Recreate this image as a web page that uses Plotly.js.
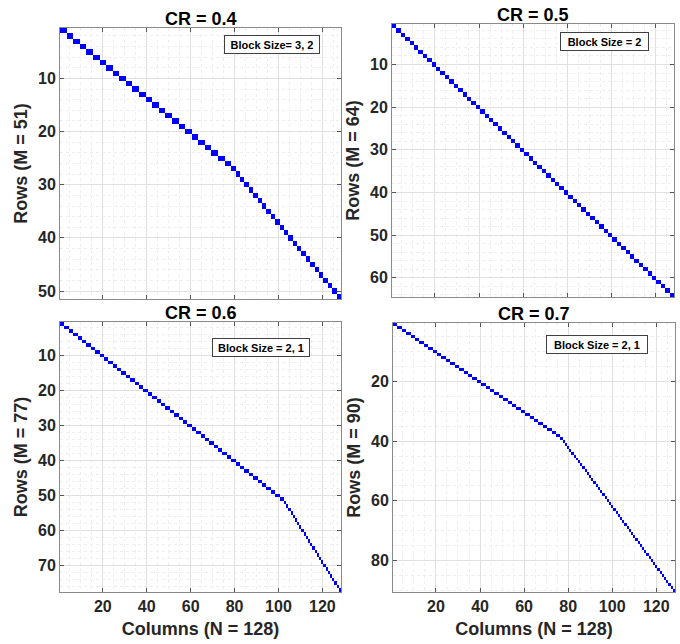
<!DOCTYPE html>
<html>
<head>
<meta charset="utf-8">
<script src="https://cdn.plot.ly/plotly-3.0.1.min.js"></script>
<style>html,body{margin:0;padding:0;background:#fff;}#chart{width:680px;height:644px;}</style>
</head>
<body>
<div id="chart"></div>
<script>
// ---- data ----
const N_COLUMNS = 128;
const crValues = [0.4, 0.5, 0.6, 0.7];
const rowCounts = [51, 64, 77, 90];
const blockSizes = [[3, 2], [2], [2, 1], [2, 1]];
const blockRowCounts = [[26, 25], [64], [51, 26], [38, 52]];
const blockLabels = ["Block Size= 3, 2", "Block Size = 2", "Block Size = 2, 1", "Block Size = 2, 1"];
const yTickValues = [
  [10, 20, 30, 40, 50],
  [10, 20, 30, 40, 50, 60],
  [10, 20, 30, 40, 50, 60, 70],
  [20, 40, 60, 80]
];
const yMinorSteps = [2, 2, 2, 5];
const xTickValues = [20, 40, 60, 80, 100, 120];
const columnTitle = "Columns (N = 128)";

// ---- layout geometry (pixels) ----
const W = 680, H = 644;
const boxes = [
  {x0: 60, x1: 341, y0: 28, y1: 299},
  {x0: 392, x1: 674, y0: 24, y1: 297},
  {x0: 60, x1: 341, y0: 322, y1: 592},
  {x0: 393, x1: 675, y0: 323, y1: 592}
];
const labelBoxes = [
  {cx: 271.5, cy: 45, w: 90},
  {cx: 604.7, cy: 42, w: 83},
  {cx: 260.5, cy: 347.5, w: 92},
  {cx: 596.5, cy: 344, w: 96}
];

const FONT = "'Liberation Sans', Arial, Helvetica, sans-serif";
const textColor = "#262626";

function buildMatrix(M, sizes, counts) {
  const z = [];
  for (let r = 0; r < M; r++) z.push(new Array(N_COLUMNS).fill(null));
  let row = 0, col = 0;
  sizes.forEach((s, i) => {
    for (let k = 0; k < counts[i]; k++) {
      for (let j = 0; j < s; j++) z[row][col + j] = 1;
      row++; col += s;
    }
  });
  return z;
}

const xs = Array.from({length: N_COLUMNS}, (_, i) => i + 1);
const traces = [];
const layout = {
  width: W, height: H,
  margin: {l: 0, r: 0, t: 0, b: 0},
  paper_bgcolor: "#ffffff",
  plot_bgcolor: "#ffffff",
  showlegend: false,
  font: {family: FONT, color: textColor},
  annotations: []
};

for (let p = 0; p < 4; p++) {
  const M = rowCounts[p];
  const ys = Array.from({length: M}, (_, i) => i + 1);
  const sfx = p === 0 ? "" : String(p + 1);
  traces.push({
    type: "heatmap",
    x: xs, y: ys,
    z: buildMatrix(M, blockSizes[p], blockRowCounts[p]),
    xaxis: "x" + sfx, yaxis: "y" + sfx,
    colorscale: [[0, "#0000ff"], [1, "#0000ff"]],
    zmin: 0, zmax: 1,
    showscale: false,
    hoverongaps: false
  });
  const b = boxes[p];
  const bottomRow = p >= 2;
  const axCommon = {
    showline: true, linecolor: "#8a8a8a", linewidth: 1, mirror: "ticks",
    ticks: "inside", ticklen: 4, tickcolor: "#555555",
    showgrid: true, gridcolor: "#e0e0e0", gridwidth: 1,
    zeroline: false,
    tickfont: {family: FONT, size: 16, weight: "bold", color: textColor},
    fixedrange: true
  };
  layout["xaxis" + sfx] = Object.assign({}, axCommon, {
    domain: [b.x0 / W, b.x1 / W],
    anchor: "y" + sfx,
    range: [0.5, N_COLUMNS + 0.5],
    autorange: false,
    tickmode: "array",
    tickvals: xTickValues,
    ticktext: xTickValues.map(String),
    showticklabels: bottomRow,
    minor: {dtick: 5, tick0: 0, showgrid: true, gridcolor: "#eeeeee", griddash: "dot", ticks: ""},
    title: bottomRow ? {text: columnTitle, font: {family: FONT, size: 18, weight: "bold", color: textColor}, standoff: 8} : {text: ""}
  });
  layout["yaxis" + sfx] = Object.assign({}, axCommon, {
    domain: [1 - b.y1 / H, 1 - b.y0 / H],
    anchor: "x" + sfx,
    range: [M + 0.5, 0.5],
    autorange: false,
    tickmode: "array",
    tickvals: yTickValues[p],
    ticktext: yTickValues[p].map(String),
    minor: {dtick: yMinorSteps[p], tick0: 0, showgrid: true, gridcolor: "#eeeeee", griddash: "dot", ticks: ""},
    title: {text: "Rows (M = " + M + ")", font: {family: FONT, size: 18, weight: "bold", color: textColor}, standoff: 5}
  });
  // panel title
  layout.annotations.push({
    xref: "paper", yref: "paper",
    x: (b.x0 + b.x1) / 2 / W,
    y: 1 - (b.y0 + 3) / H,
    xanchor: "center", yanchor: "bottom",
    text: "CR = " + crValues[p],
    showarrow: false,
    font: {family: FONT, size: 18, weight: "bold", color: "#000000"}
  });
  // block size label
  const lb = labelBoxes[p];
  layout.annotations.push({
    xref: "paper", yref: "paper",
    x: lb.cx / W, y: 1 - lb.cy / H,
    xanchor: "center", yanchor: "middle",
    text: blockLabels[p],
    showarrow: false,
    width: lb.w, height: 13,
    bgcolor: "#ffffff",
    bordercolor: "#404040", borderwidth: 1, borderpad: 2,
    font: {family: FONT, size: 11, weight: "bold", color: "#000000"}
  });
}

Plotly.newPlot("chart", traces, layout, {displayModeBar: false, staticPlot: true});
</script>
</body>
</html>
